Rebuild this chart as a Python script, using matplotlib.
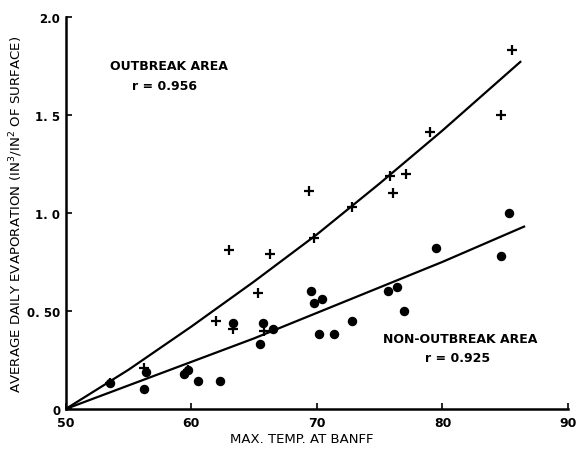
import matplotlib
matplotlib.use("Agg")
import matplotlib.pyplot as plt

# outbreak area (+)
out_temp = [53.5, 56.2, 59.7, 62.0, 63.0, 63.3, 65.3, 65.8, 66.3, 69.4, 69.8,
            72.8, 75.8, 76.1, 77.1, 79.0, 84.7, 85.5]
out_evap = [0.13, 0.21, 0.20, 0.45, 0.81, 0.41, 0.59, 0.40, 0.79, 1.11, 0.87,
            1.03, 1.19, 1.10, 1.20, 1.41, 1.50, 1.83]

# non-outbreak area (dots)
non_temp = [53.5, 56.2, 56.4, 59.4, 59.7, 60.5, 62.3, 63.3, 65.5, 65.7, 66.5,
            69.5, 69.8, 70.4, 70.2, 71.4, 72.8, 75.7, 76.4, 76.9, 79.5, 84.7, 85.3]
non_evap = [0.13, 0.10, 0.19, 0.18, 0.20, 0.14, 0.14, 0.44, 0.33, 0.44, 0.41,
            0.60, 0.54, 0.56, 0.38, 0.38, 0.45, 0.60, 0.62, 0.50, 0.82, 0.78, 1.00]

# fitted curves
out_curve_x = [50, 55, 60, 65, 70, 75, 80, 86.2]
out_curve_y = [0.0, 0.20, 0.42, 0.65, 0.89, 1.15, 1.42, 1.77]
non_curve_x = [50, 55, 60, 65, 70, 75, 80, 86.5]
non_curve_y = [0.0, 0.12, 0.24, 0.36, 0.49, 0.62, 0.75, 0.93]

plt.rcParams['font.family'] = 'DejaVu Sans'

fig = plt.figure(figsize=(5.82, 4.56), dpi=100)
ax = fig.add_axes([0.113, 0.101, 0.863, 0.86])

ax.plot(out_curve_x, out_curve_y, color='black', lw=1.6)
ax.plot(non_curve_x, non_curve_y, color='black', lw=1.6)
ax.plot(out_temp, out_evap, '+', color='black', ms=7, mew=1.6)
ax.plot(non_temp, non_evap, 'o', color='black', ms=5.8)

ax.set_xlim(50, 90)
ax.set_ylim(0, 2.0)
ax.set_xticks([50, 60, 70, 80, 90])
ax.set_xticklabels(['50', '60', '70', '80', '90'], fontweight='bold', fontsize=9)
ax.set_yticks([0, 0.5, 1.0, 1.5, 2.0])
ax.set_yticklabels(['0', '0. 50', '1. 0', '1. 5', '2.0'], fontweight='bold', fontsize=8.5)
ax.tick_params(direction='in', length=4, width=1.2, pad=5)
ax.tick_params(axis='y', pad=4)

for s in ['top', 'right']:
    ax.spines[s].set_visible(False)
for s in ['left', 'bottom']:
    ax.spines[s].set_linewidth(1.8)

ax.set_xlabel('MAX. TEMP. AT BANFF', fontsize=9.5)
ax.xaxis.set_label_coords(0.47, -0.06)
ax.set_ylabel('AVERAGE DAILY EVAPORATION (IN$^3$/IN$^2$ OF SURFACE)', fontsize=9.6)
ax.yaxis.set_label_coords(-0.082, 0.5)

ax.text(53.5, 1.75, 'OUTBREAK AREA', fontsize=9, fontweight='bold', va='center')
ax.text(55.3, 1.65, 'r = 0.956', fontsize=9, fontweight='bold', va='center')
ax.text(75.3, 0.36, 'NON-OUTBREAK AREA', fontsize=9, fontweight='bold', va='center')
ax.text(78.6, 0.26, 'r = 0.925', fontsize=9, fontweight='bold', va='center')

fig.savefig('out.png', dpi=100)
